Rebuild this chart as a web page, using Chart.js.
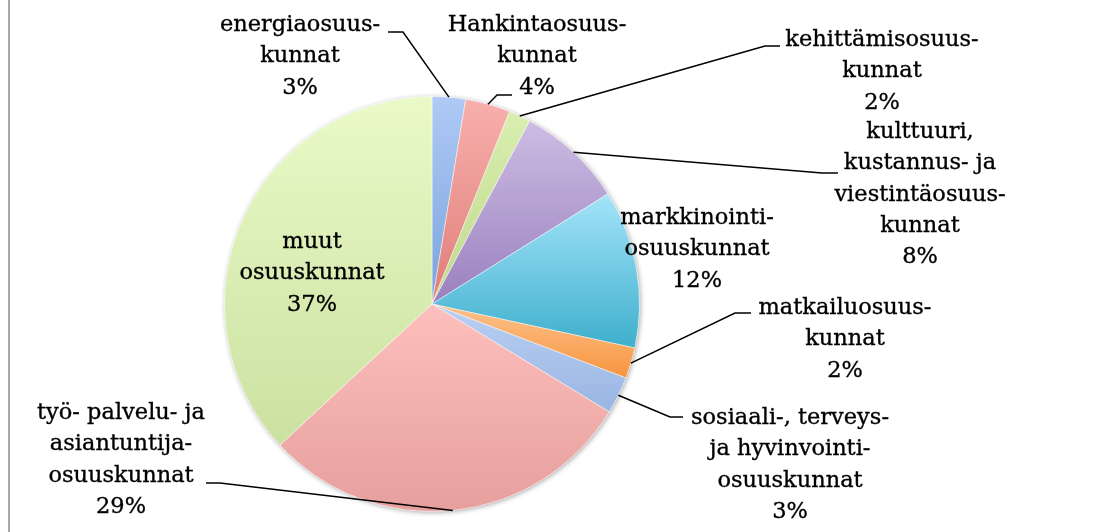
<!DOCTYPE html>
<html>
<head>
<meta charset="utf-8">
<script src="https://cdn.jsdelivr.net/npm/chart.js@4.4.1/dist/chart.umd.min.js"></script>
<style>
  html, body { margin: 0; padding: 0; background: #fff; }
  #wrap { position: relative; width: 1105px; height: 532px; overflow: hidden; }
  #edge { position: absolute; left: 8px; top: 0; width: 0; height: 532px; border-left: 2px solid #a8a8a8; }
  canvas { position: absolute; left: 0; top: 0; }
</style>
</head>
<body>
<div id="wrap">
  <canvas id="pie" width="1105" height="532"></canvas>
  <div id="edge"></div>
</div>
<script>
// ── Data ──────────────────────────────────────────────
const categories = [
  ['energiaosuus-', 'kunnat'],
  ['Hankintaosuus-', 'kunnat'],
  ['kehittämisosuus-', 'kunnat'],
  ['kulttuuri,', 'kustannus- ja', 'viestintäosuus-', 'kunnat'],
  ['markkinointi-', 'osuuskunnat'],
  ['matkailuosuus-', 'kunnat'],
  ['sosiaali-, terveys-', 'ja hyvinvointi-', 'osuuskunnat'],
  ['työ- palvelu- ja', 'asiantuntija-', 'osuuskunnat'],
  ['muut', 'osuuskunnat']
];
// shares (%); labels show them rounded
const shares = [2.6, 3.5, 1.7, 8.3, 12.3, 2.4, 2.9, 29.4, 36.9];

// ── Colours (top / bottom of each slice gradient) ─────
const TOP_COLORS    = ['#b0caf6', '#f8b0ad', '#d9eeb0', '#cdbde4', '#a4e4fa', '#fdc28d', '#bbd0f3', '#fdbfbd', '#e9fac8'];
const BOTTOM_COLORS = ['#79a4db', '#df7d79', '#bfd98a', '#9a80be', '#3eafcc', '#f7953e', '#99b5e2', '#e69f9c', '#cbe1a0'];

// ── Label layout: text centre x, first line y, leader elbow points ──
const LABEL_POS = [
  { x: 300, y: 25,  lead: [[403, 32], [388, 32]] },
  { x: 537, y: 25,  lead: [[497, 95], [512, 95]] },
  { x: 882, y: 40,  lead: [[765, 46], [780, 46]] },
  { x: 920, y: 132, lead: [[822, 173], [838, 173]] },
  { x: 697, y: 218, lead: null },
  { x: 845, y: 308, lead: [[735, 313], [751, 313]] },
  { x: 790, y: 418, lead: [[670, 417], [683, 417]] },
  { x: 121, y: 413, lead: [[220, 483], [206, 483]] },
  { x: 312, y: 242, lead: null }
];
const LINE_H = 31.4;
const FONT = '22.5px "DejaVu Serif"';

// ── Gradient per slice bounding box ───────────────────
function sliceGradient(ctx) {
  const chart = ctx.chart;
  const i = ctx.dataIndex;
  const area = chart.chartArea;
  if (!area) return TOP_COLORS[i];
  const cx = (area.left + area.right) / 2;
  const cy = (area.top + area.bottom) / 2;
  const r = Math.min(area.right - area.left, area.bottom - area.top) / 2;
  const total = shares.reduce((a, b) => a + b, 0);
  const before = shares.slice(0, i).reduce((a, b) => a + b, 0);
  const a0 = -Math.PI / 2 + 2 * Math.PI * before / total;
  const a1 = a0 + 2 * Math.PI * shares[i] / total;
  let ys = [cy, cy + Math.sin(a0) * r, cy + Math.sin(a1) * r];
  // include top / bottom of circle when the slice spans them
  [-Math.PI / 2, Math.PI / 2, 3 * Math.PI / 2].forEach(a => {
    if (a > a0 && a < a1) ys.push(cy + Math.sin(a) * r);
  });
  const minY = Math.min(...ys), maxY = Math.max(...ys);
  const g = chart.ctx.createLinearGradient(0, minY, 0, maxY);
  g.addColorStop(0, TOP_COLORS[i]);
  g.addColorStop(1, BOTTOM_COLORS[i]);
  return g;
}

// ── Shadow under the pie ──────────────────────────────
const pieShadow = {
  id: 'pieShadow',
  beforeDatasetsDraw(chart) {
    const arc = chart.getDatasetMeta(0).data[0];
    if (!arc) return;
    const c = chart.ctx;
    c.save();
    c.beginPath();
    c.arc(arc.x, arc.y, arc.outerRadius, 0, Math.PI * 2);
    c.shadowColor = 'rgba(0,0,0,0.35)';
    c.shadowBlur = 5;
    c.shadowOffsetX = 1;
    c.shadowOffsetY = 1;
    c.fillStyle = '#ffffff';
    c.fill();
    c.restore();
  }
};

// ── Labels + leader lines ─────────────────────────────
const pieLabels = {
  id: 'pieLabels',
  afterDatasetsDraw(chart) {
    const c = chart.ctx;
    const arcs = chart.getDatasetMeta(0).data;
    c.save();
    c.font = FONT;
    c.fillStyle = '#000';
    c.textAlign = 'center';
    c.textBaseline = 'middle';
    c.strokeStyle = '#000';
    arcs.forEach((arc, i) => {
      const pos = LABEL_POS[i];
      const lines = categories[i].concat([Math.round(shares[i]) + '%']);
      c.lineWidth = 0.35;
      lines.forEach((t, k) => {
        c.fillText(t, pos.x, pos.y + k * LINE_H);
        c.strokeText(t, pos.x, pos.y + k * LINE_H);
      });
      if (pos.lead) {
        const mid = (arc.startAngle + arc.endAngle) / 2;
        c.lineWidth = 1.5;
        c.beginPath();
        c.moveTo(arc.x + Math.cos(mid) * arc.outerRadius, arc.y + Math.sin(mid) * arc.outerRadius);
        pos.lead.forEach(p => c.lineTo(p[0], p[1]));
        c.stroke();
      }
    });
    c.restore();
  }
};

new Chart(document.getElementById('pie'), {
  type: 'pie',
  data: {
    labels: categories.map(l => l.join(' ')),
    datasets: [{
      data: shares,
      backgroundColor: sliceGradient,
      borderColor: 'rgba(255,255,255,0.45)',
      borderWidth: 1
    }]
  },
  options: {
    responsive: false,
    animation: false,
    events: [],
    layout: { padding: { left: 224, right: 465, top: 96, bottom: 20 } },
    plugins: { legend: { display: false }, tooltip: { enabled: false } }
  },
  plugins: [pieShadow, pieLabels]
});
</script>
</body>
</html>
